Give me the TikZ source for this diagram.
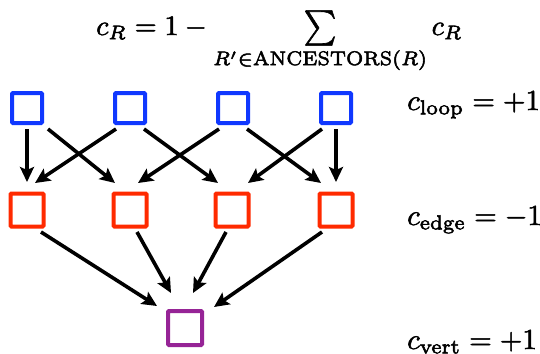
\documentclass[tikz,border=0pt]{standalone}
\usetikzlibrary{arrows.meta}
\definecolor{loopblue}{RGB}{16,56,255}
\definecolor{edgered}{RGB}{255,42,0}
\definecolor{vertpurple}{RGB}{150,36,150}
% scaled math, with glyphs slightly emboldened by a thin outline
\newcommand{\bigeq}[2]{\special{pdf:literal direct 2 Tr 0.18 w}\scalebox{#1}{$#2$}\special{pdf:literal direct 0 Tr}}
% a slightly taller summation sign, centred on the math axis
\newcommand{\tallsum}{\mathop{\vcenter{\hbox{\scalebox{1.1}[1.25]{$\textstyle\sum$}}}}}
\begin{document}
\begin{tikzpicture}[x=1pt,y=-1pt,
  cell/.style={draw, line width=4pt, rounded corners=1pt, inner sep=0pt, minimum size=#1},
  loopcell/.style={cell=30pt, draw=loopblue},
  edgecell/.style={cell=33pt, draw=edgered},
  vertcell/.style={cell=34pt, draw=vertpurple},
  arr/.style={line width=3.6pt, -{Stealth[length=15pt, width=14pt, inset=3pt]}},
  eq/.style={anchor=base west, inner sep=0pt}]
\useasboundingbox (0,0) rectangle (540,353);

% loops, edges and the vertex
\node[loopcell] (b1) at (27,108) {};
\node[loopcell] (b2) at (130,108) {};
\node[loopcell] (b3) at (233,108) {};
\node[loopcell] (b4) at (336,108) {};
\node[edgecell] (r1) at (27,210) {};
\node[edgecell] (r2) at (130,210) {};
\node[edgecell] (r3) at (232,210) {};
\node[edgecell] (r4) at (336,210) {};
\node[vertcell] (p) at (185,328) {};

% loops to edges
\draw[arr] ([shift={(0,4)}]b1.south) -- ([shift={(0,-9.5)}]r1.north);
\draw[arr] ([shift={(4,4)}]b1.south east) -- ([shift={(3.5,-8.5)}]r2.north west);
\draw[arr] ([shift={(3,4)}]b2.south west) -- ([shift={(-10.5,-8.5)}]r1.north east);
\draw[arr] ([shift={(-3,4)}]b2.south east) -- ([shift={(4.5,-8.5)}]r3.north west);
\draw[arr] ([shift={(3,4)}]b3.south west) -- ([shift={(-10.5,-8.5)}]r2.north east);
\draw[arr] ([shift={(-3,4)}]b3.south east) -- ([shift={(3.5,-8.5)}]r4.north west);
\draw[arr] ([shift={(3,4)}]b4.south west) -- ([shift={(-2.5,-8.5)}]r3.north east);
\draw[arr] ([shift={(0,4)}]b4.south) -- ([shift={(0,-9.5)}]r4.north);

% edges to the vertex
\draw[arr] ([shift={(-4.5,3.5)}]r1.south east) -- ([shift={(-9,-3)}]p.north west);
\draw[arr] ([shift={(7,3.5)}]r2.south) -- ([shift={(-14,-16)}]p.north);
\draw[arr] ([shift={(-6,3.5)}]r3.south) -- ([shift={(8,-16)}]p.north);
\draw[arr] ([shift={(4.5,3.5)}]r4.south west) -- ([shift={(10,-2)}]p.north east);

% coefficients
\node[eq] (formula) at (96,35) {\bigeq{2.82}{c_R = 1 - \tallsum\limits_{R'\in\mathrm{ANCESTORS}(R)} c_R}};
\node[eq] (cloop) at (407,110) {\bigeq{2.9}{c_{\mathrm{loop}} = +1}};
\node[eq] (cedge) at (407,225) {\bigeq{2.9}{c_{\mathrm{edge}} = -1}};
\node[eq] (cvert) at (407,349) {\bigeq{2.9}{c_{\mathrm{vert}} = +1}};
\end{tikzpicture}
\end{document}
